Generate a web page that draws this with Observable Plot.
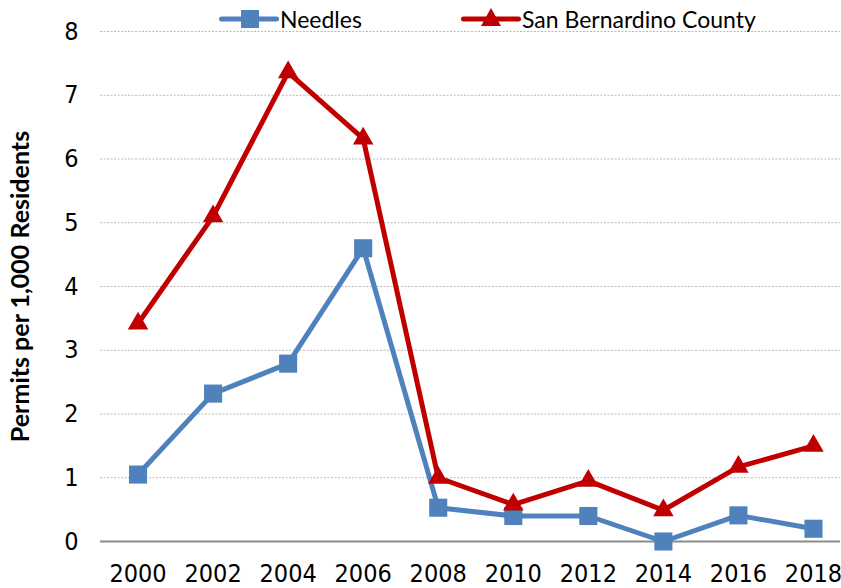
<!DOCTYPE html>
<html><head><meta charset="utf-8">
<script src="https://cdn.jsdelivr.net/npm/d3@7"></script>
<script src="https://cdn.jsdelivr.net/npm/@observablehq/plot@0.6"></script>
<style>
body{margin:0;background:#fff;}
#legend{position:relative;height:26px;font-family:Lato,"Noto Sans",sans-serif;font-size:23px;color:#000;}
.item{position:absolute;top:5px;height:28px;display:flex;align-items:center;}
.item svg{display:block;}
</style></head>
<body>
<div id="legend"></div>
<div id="chart"></div>
<script>
const years = [2000, 2002, 2004, 2006, 2008, 2010, 2012, 2014, 2016, 2018];
const needles = [1.05, 2.32, 2.79, 4.6, 0.53, 0.4, 0.4, 0.0, 0.41, 0.2];
const sbc = [3.42, 5.1, 7.36, 6.32, 1.0, 0.58, 0.95, 0.49, 1.17, 1.5];
const seriesNames = ["Needles", "San Bernardino County"];
const colors = ["#4F81BD", "#C00000"];
const yTicks = [0, 1, 2, 3, 4, 5, 6, 7, 8];

const data = [];
years.forEach((y, i) => {
  data.push({year: y, value: needles[i], series: seriesNames[0]});
  data.push({year: y, value: sbc[i], series: seriesNames[1]});
});
const nd = data.filter(d => d.series === seriesNames[0]);
const sd = data.filter(d => d.series === seriesNames[1]);

// legend
const legend = document.getElementById("legend");
const lx = [219, 461];
const symbols = [
  '<rect x="22" y="5" width="18" height="18" fill="' + colors[0] + '"/>',
  '<path d="M30 3 L40 21 L20 21 Z" fill="' + colors[1] + '"/>'
];
seriesNames.forEach((name, i) => {
  const it = document.createElement("div");
  it.className = "item";
  it.style.left = lx[i] + "px";
  it.innerHTML = '<svg width="60" height="28"><line x1="2.5" x2="57.5" y1="14" y2="14" stroke="' + colors[i] + '" stroke-width="5" stroke-linecap="round"/>' + symbols[i] + '</svg><span style="margin-left:1px">' + name + '</span>';
  legend.appendChild(it);
});

const narrow = '"Liberation Sans Narrow","Arial Narrow","DejaVu Sans Condensed",sans-serif';
const chart = Plot.plot({
  width: 841,
  height: 562,
  marginLeft: 100,
  marginRight: 1,
  marginTop: 5,
  marginBottom: 47,
  style: {fontFamily: narrow, fontSize: "25px", color: "#000", background: "#fff", overflow: "visible"},
  x: {type: "linear", domain: [1999, 2018.72]},
  y: {domain: [0, 8]},
  marks: [
    Plot.gridY(yTicks.filter(t => t > 0), {stroke: "#b8b8b8", strokeOpacity: 1, strokeDasharray: "2,1.5", strokeWidth: 1}),
    Plot.ruleY([0], {stroke: "#8c8c8c", strokeWidth: 2}),
    Plot.axisY(yTicks, {tickSize: 0, tickPadding: 22, tickFormat: "d", label: null, fontSize: 25}),
    Plot.axisX(years, {tickSize: 0, tickPadding: 23, tickFormat: "d", label: null, fontSize: 25}),
    Plot.text(["Permits per 1,000 Residents"], {frameAnchor: "left", dx: -80, rotate: -90, textAnchor: "middle", fontFamily: 'Lato,"Noto Sans",sans-serif', fontWeight: "bold", fontSize: 25, fill: "#000"}),
    Plot.line(nd, {x: "year", y: "value", stroke: colors[0], strokeWidth: 5}),
    Plot.line(sd, {x: "year", y: "value", stroke: colors[1], strokeWidth: 5}),
    Plot.dot(nd, {x: "year", y: "value", symbol: "square", r: 10.2, fill: colors[0], stroke: "none"}),
    Plot.dot(sd, {x: "year", y: "value", symbol: "triangle", r: 7.6, fill: colors[1], stroke: "none"})
  ]
});
document.getElementById("chart").appendChild(chart);
</script>
</body></html>
